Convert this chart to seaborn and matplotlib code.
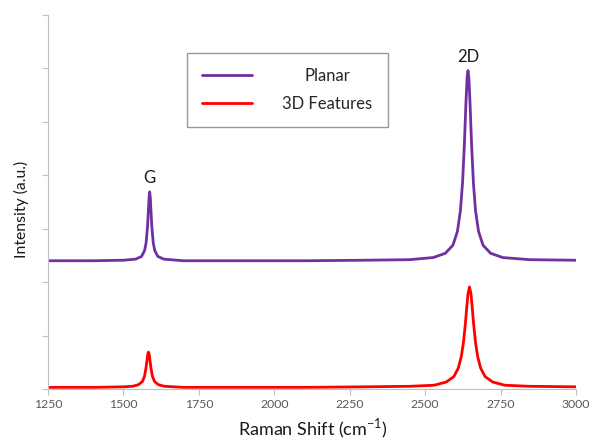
import matplotlib.pyplot as plt
import pandas as pd
import seaborn as sns

# spectra (intensity in a.u., one y tick = 1 unit)
planar_shift = [1250, 1400, 1500, 1540, 1560, 1570, 1575, 1580, 1583, 1585, 1587,
                1589, 1591, 1594, 1599, 1604, 1614, 1634, 1700, 1900, 2100, 2300,
                2447, 2527, 2567, 2592, 2607, 2617, 2624, 2630, 2635, 2639, 2642,
                2645, 2649, 2654, 2660, 2667, 2677, 2692, 2717, 2757, 2847, 3000]
planar_intensity = [2.40, 2.40, 2.41, 2.43, 2.48, 2.59, 2.73, 3.05, 3.37, 3.59, 3.69,
                    3.59, 3.37, 3.05, 2.73, 2.59, 2.48, 2.43, 2.40, 2.40, 2.40, 2.41,
                    2.42, 2.46, 2.54, 2.69, 2.95, 3.34, 3.86, 4.57, 5.32, 5.82, 5.96,
                    5.82, 5.32, 4.57, 3.86, 3.34, 2.95, 2.69, 2.54, 2.46, 2.42, 2.41]

features_shift = [1250, 1400, 1500, 1530, 1550, 1563, 1570, 1575, 1579, 1581, 1583,
                  1585, 1587, 1591, 1596, 1603, 1616, 1636, 1700, 1900, 2100, 2300,
                  2450, 2530, 2570, 2595, 2610, 2620, 2627, 2633, 2638, 2642, 2647,
                  2652, 2656, 2661, 2667, 2674, 2684, 2699, 2724, 2764, 2844, 3000]
features_intensity = [0.03, 0.03, 0.04, 0.05, 0.08, 0.14, 0.24, 0.40, 0.58, 0.66, 0.69,
                      0.66, 0.58, 0.40, 0.24, 0.14, 0.08, 0.05, 0.03, 0.03, 0.03, 0.04,
                      0.05, 0.07, 0.13, 0.23, 0.39, 0.61, 0.87, 1.20, 1.53, 1.78, 1.91,
                      1.78, 1.53, 1.20, 0.87, 0.61, 0.39, 0.23, 0.13, 0.07, 0.05, 0.04]

series_names = ['Planar', '3D Features']
col_palette = {'Planar': '#7030A0', '3D Features': '#FF0000'}
x_ticks = [1250, 1500, 1750, 2000, 2250, 2500, 2750, 3000]
y_ticks = [0, 1, 2, 3, 4, 5, 6, 7]
peak_labels = [('G', 1587), ('2D', 2642)]

sns.set_theme(style="white")
plt.rcParams['font.family'] = ['Lato', 'DejaVu Sans']
plt.rcParams['mathtext.fontset'] = 'custom'
plt.rcParams['mathtext.rm'] = 'Lato'

df = pd.concat([
    pd.DataFrame({'shift': planar_shift, 'intensity': planar_intensity, 'sample': 'Planar'}),
    pd.DataFrame({'shift': features_shift, 'intensity': features_intensity, 'sample': '3D Features'}),
])

fig = plt.figure(figsize=(5.89, 4.42), dpi=100)
ax = fig.add_axes([0.0815, 0.12, 0.8964, 0.846])
sns.lineplot(data=df, x='shift', y='intensity', hue='sample', hue_order=series_names,
             palette=col_palette, estimator=None, linewidth=2.0, ax=ax)

ax.set_xlim(1250, 3000)
ax.set_ylim(0, 7)
ax.set_xticks(x_ticks)
ax.set_yticks(y_ticks)
ax.set_yticklabels([])
ax.tick_params(axis='both', which='major', direction='out', length=4, width=0.8,
               color='#BFBFBF', labelsize=8.8, labelcolor='#595959', bottom=True, left=True)
for side in ['top', 'right']:
    ax.spines[side].set_visible(False)
for side in ['left', 'bottom']:
    ax.spines[side].set_color('#BFBFBF')
    ax.spines[side].set_linewidth(0.8)

ax.set_xlabel(r'Raman Shift (cm$^{\mathregular{-1}}$)', fontsize=13, color='#1a1a1a')
ax.set_ylabel('Intensity (a.u.)', fontsize=11.3, color='#1a1a1a')
ax.yaxis.set_label_coords(-0.036, 0.479)
ax.xaxis.set_label_coords(0.502, -0.075)

# peak labels above the planar spectrum
for name, pos in peak_labels:
    top = planar_intensity[planar_shift.index(pos)]
    ax.annotate(name, xy=(pos, top), xytext=(0, 4), textcoords='offset points',
                ha='center', va='bottom', fontsize=12, color='#1a1a1a')

sns.move_legend(ax, 'upper left', bbox_to_anchor=(0.264, 0.898), title=None,
                frameon=True, fancybox=False, fontsize=12, handlelength=3.0,
                handletextpad=1.8, labelspacing=0.7, borderpad=0.9, borderaxespad=0)
leg = ax.get_legend()
leg.get_frame().set_edgecolor('#808080')
leg.get_frame().set_linewidth(1.0)
for line in leg.get_lines():
    line.set_linewidth(2.0)

# legend labels are centred in their column, as in the original
fig.canvas.draw()
texts = leg.get_texts()
widths = [t.get_window_extent().width for t in texts]
for t, w in zip(texts, widths):
    t.set_position(((max(widths) - w) / 2, 0))

fig.savefig('out.png', dpi=100)
